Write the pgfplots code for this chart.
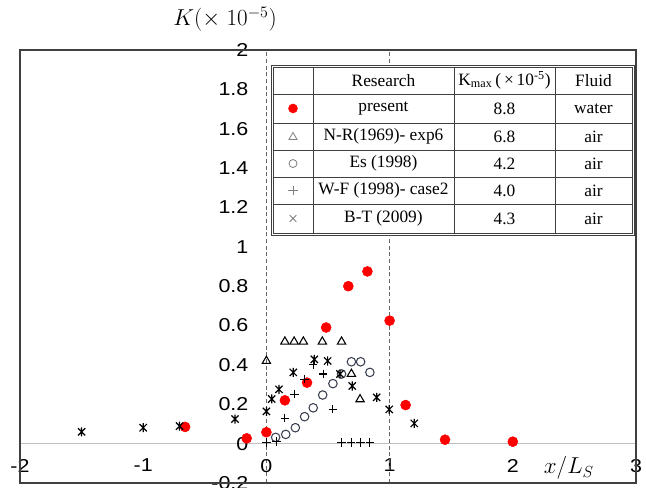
\documentclass[border=0pt]{standalone}
\usepackage{pgfplots}
\pgfplotsset{compat=1.18}
\usepackage{fontspec}
\setmainfont{Liberation Sans}
\newfontfamily\tabfont{Liberation Serif}
\newfontfamily\tickfont[FakeStretch=1.15]{Liberation Sans}

\definecolor{framegray}{HTML}{404040}
\definecolor{circgray}{HTML}{3A4050}
\definecolor{glyphgray}{HTML}{7F7F7F}

% x with a vertical bar (Excel "star")
\pgfdeclareplotmark{xstar}{%
  \pgfpathmoveto{\pgfpoint{-0.8\pgfplotmarksize}{-0.8\pgfplotmarksize}}%
  \pgfpathlineto{\pgfpoint{0.8\pgfplotmarksize}{0.8\pgfplotmarksize}}%
  \pgfpathmoveto{\pgfpoint{-0.8\pgfplotmarksize}{0.8\pgfplotmarksize}}%
  \pgfpathlineto{\pgfpoint{0.8\pgfplotmarksize}{-0.8\pgfplotmarksize}}%
  \pgfpathmoveto{\pgfpoint{0pt}{-\pgfplotmarksize}}%
  \pgfpathlineto{\pgfpoint{0pt}{\pgfplotmarksize}}%
  \pgfusepathqstroke}

\begin{document}
\begin{tikzpicture}
\useasboundingbox (-15pt,-3pt) rectangle (469.5pt,362.25pt);
\begin{axis}[
  scale only axis, width=462pt, height=324.75pt,
  xmin=-2, xmax=3, ymin=-0.2, ymax=2,
  axis lines=middle, axis line style={-},
  x axis line style={draw=black!25, line width=0.75pt},
  y axis line style={draw=black!60, densely dashed, line width=0.5pt},
  xtick={-2,-1,0,1,2,3}, xticklabels={-2,-1,0,1,2,3},
  ytick={-0.2,0,0.2,0.4,0.6,0.8,1,1.2,1.4,1.6,1.8,2},
  yticklabels={-0.2,0,0.2,0.4,0.6,0.8,1,1.2,1.4,1.6,1.8,2},
  major tick length=0pt,
  hide obscured x ticks=false, hide obscured y ticks=false,
  tick label style={font=\tickfont\fontsize{14}{16}\selectfont, text=black},
  xticklabel style={yshift=-8pt},
  yticklabel style={xshift=-10pt},
  xlabel={$x/L_S$}, ylabel={$K(\times\;10^{-5})$},
  xlabel style={at={(axis description cs:0.891,0.021)}, anchor=base, font=\fontsize{18.5}{21}\selectfont},
  ylabel style={at={(axis description cs:0.333,1.0555)}, anchor=base, font=\fontsize{17.5}{20}\selectfont},
  clip=false,
]
% present
\addplot[only marks, mark=*, mark size=3.75pt, mark options={draw=red, fill=red}] coordinates {
  (-0.66,0.085) (-0.16,0.027) (0,0.058) (0.15,0.22) (0.33,0.31) (0.485,0.59)
  (0.665,0.80) (0.82,0.875) (1.0,0.625) (1.13,0.196) (1.45,0.02) (2.0,0.01)
};
% N-R(1969)- exp6
\addplot[only marks, mark=triangle, mark size=3.6pt, mark options={draw=black, line width=0.8pt}] coordinates {
  (0,0.42) (0.15,0.518) (0.225,0.518) (0.30,0.518) (0.454,0.518) (0.61,0.518)
  (0.69,0.354) (0.76,0.225)
};
% Es (1998)
\addplot[only marks, mark=o, mark size=3.2pt, mark options={draw=circgray, line width=0.8pt}] coordinates {
  (0.075,0.032) (0.157,0.047) (0.235,0.081) (0.31,0.137) (0.38,0.182) (0.457,0.247)
  (0.54,0.305) (0.61,0.354) (0.69,0.416) (0.765,0.416) (0.84,0.362)
};
% W-F (1998)- case2
\addplot[only marks, mark=+, mark size=3.2pt, mark options={draw=black, line width=0.8pt}] coordinates {
  (0,0.005) (0.08,0.012) (0.15,0.13) (0.227,0.252) (0.31,0.328) (0.38,0.40)
  (0.46,0.354) (0.54,0.175) (0.61,0.005) (0.687,0.005) (0.765,0.005) (0.84,0.005)
};
% B-T (2009)
\addplot[only marks, mark=xstar, mark size=3.4pt, mark options={draw=black, line width=0.9pt}] coordinates {
  (-1.5,0.06) (-1.0,0.081) (-0.705,0.089) (-0.255,0.125) (0,0.164) (0.043,0.227)
  (0.102,0.276) (0.218,0.362) (0.389,0.428) (0.497,0.42) (0.597,0.354) (0.697,0.293)
  (0.895,0.235) (0.997,0.174) (1.2,0.103)
};
\draw[black!60, densely dashed, line width=0.5pt] (axis cs:1,-0.2) -- (axis cs:1,2);
\end{axis}
\draw[framegray, line width=1pt] (0,0) rectangle (462pt,324.75pt);

% table
\begin{scope}[line width=0.6pt, draw=framegray]
\fill[white] (188.25pt,186pt) rectangle (460.5pt,313.5pt);
\draw (188.25pt,186pt) rectangle (460.5pt,313.5pt);
\draw (189.75pt,187.5pt) rectangle (459pt,312pt);
\foreach \x in {219.75,325.5,401.25} \draw (\x pt,187.5pt) -- (\x pt,312pt);
\foreach \y in {291.75,270,249.75,229.5,209.25} \draw (189.75pt,\y pt) -- (459pt,\y pt);
\end{scope}
\begin{scope}[every node/.style={font=\tabfont\fontsize{13}{15}\selectfont, inner sep=0pt}]
\node at (272.6pt,301.9pt) {Research};
\node at (363.4pt,301.9pt) {K\textsubscript{max}\,(\,×\,10\textsuperscript{-5})};
\node at (430.1pt,301.9pt) {Fluid};
\node at (272.6pt,280.9pt) {present};
\node at (363.4pt,280.9pt) {8.8};
\node at (430.1pt,280.9pt) {water};
\node at (272.6pt,259.9pt) {N-R(1969)- exp6};
\node at (363.4pt,259.9pt) {6.8};
\node at (430.1pt,259.9pt) {air};
\node at (272.6pt,239.6pt) {Es (1998)};
\node at (363.4pt,239.6pt) {4.2};
\node at (430.1pt,239.6pt) {air};
\node at (272.6pt,219.4pt) {W-F (1998)- case2};
\node at (363.4pt,219.4pt) {4.0};
\node at (430.1pt,219.4pt) {air};
\node at (272.6pt,198.4pt) {B-T (2009)};
\node at (363.4pt,198.4pt) {4.3};
\node at (430.1pt,198.4pt) {air};
\end{scope}
% legend glyphs
\fill[red] (204.75pt,280.9pt) circle (3.6pt);
\draw[glyphgray, line width=0.6pt] (201.75pt,257.7pt) -- (207.75pt,257.7pt) -- (204.75pt,262.9pt) -- cycle;
\draw[glyphgray, line width=0.6pt] (204.75pt,239.6pt) circle (3pt);
\draw[glyphgray, line width=0.7pt] (201.25pt,219.4pt) -- (208.25pt,219.4pt) (204.75pt,215.9pt) -- (204.75pt,222.9pt);
\draw[glyphgray, line width=0.6pt] (202.25pt,195.9pt) -- (207.25pt,200.9pt) (202.25pt,200.9pt) -- (207.25pt,195.9pt);
\end{tikzpicture}
\end{document}
